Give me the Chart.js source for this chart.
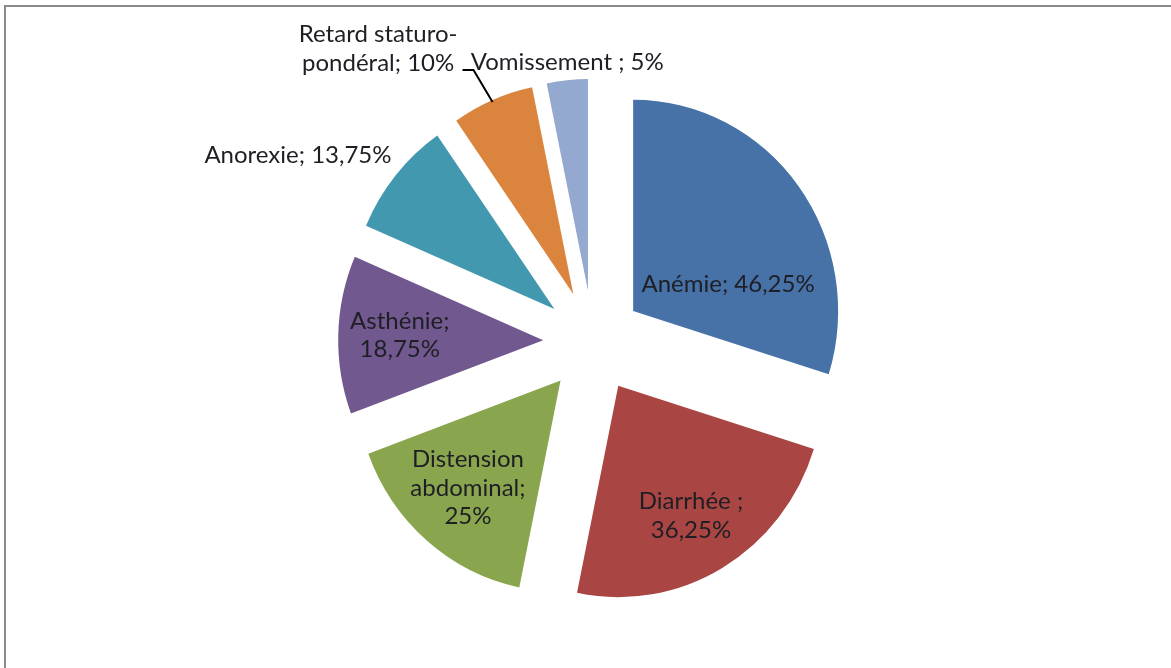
<!DOCTYPE html>
<html lang="fr">
<head>
<meta charset="utf-8">
<title>Signes cliniques</title>
<script src="https://cdn.jsdelivr.net/npm/chart.js@4/dist/chart.umd.min.js"></script>
<style>
  html, body { margin: 0; padding: 0; background: #ffffff; }
  #wrap { position: relative; width: 1171px; height: 668px; overflow: hidden; }
  #frame {
    position: absolute; left: 4px; top: 5px; width: 1300px; height: 800px;
    border-top: 2px solid #8a8a8a; border-left: 2px solid #8a8a8a;
    box-sizing: border-box;
  }
  canvas { position: absolute; left: 0; top: 0; }
</style>
</head>
<body>
<div id="wrap">
  <div id="frame"></div>
  <canvas id="chart" width="1171" height="668"></canvas>
</div>
<script>
// Clinical signs, in drawing order (clockwise from 12 o'clock)
const categories = [
  'Anémie', 'Diarrhée', 'Distension abdominal', 'Asthénie',
  'Anorexie', 'Retard staturo-pondéral', 'Vomissement'
];
const values = [46.25, 36.25, 25, 18.75, 13.75, 10, 5];
const sliceColors = [
  '#4672A7', '#A94643', '#89A54E', '#71588F', '#4198AF', '#DB843D', '#93A9CF'
];
// Label text per slice; {v} is replaced by the formatted value
const labelTemplates = [
  'Anémie; {v}',
  'Diarrhée ;\n{v}',
  'Distension\nabdominal;\n{v}',
  'Asthénie;\n{v}',
  'Anorexie; {v}',
  'Retard staturo-\npondéral; {v}',
  'Vomissement ; {v}'
];

const fmt = v => String(v).replace('.', ',') + '%';
const labelLines = labelTemplates.map((t, i) => t.replace('{v}', fmt(values[i])).split('\n'));

// Where each label sits: inside along the slice (shift in degrees, fraction of radius
// from the slice tip) or outside next to the arc's midpoint.
const labelPlacement = [
  { inside: true, shift: 21, r: 0.48 },
  { inside: true, shift: 0.5, r: 0.71 },
  { inside: true, shift: 1, r: 0.68 },
  { inside: true, shift: 0.5, r: 0.70 },
  { inside: false, align: 'right', dx: -4, dy: -20 },
  { inside: false, leader: true },
  { inside: false, align: 'center', dx: 0, dy: -18 }
];

const EXPLODE = 0.243;           // slice pull-out, as a fraction of the radius
const STRETCH_Y = 1.031;         // the pie is drawn slightly taller than wide
const FONT = '24px Lato, "Open Sans", sans-serif';
const LINE_H = 28.5;
const TEXT_COLOR = '#1e1e24';

// Point on the (vertically stretched) pie, from pie-local offsets
const toScreen = (arc, dx, dy) => [arc.x + dx, arc.y + dy * STRETCH_Y];

// Draws every slice pulled out along its own bisector
const explodedSlices = {
  id: 'explodedSlices',
  beforeDatasetDraw(chart, args) {
    const ctx = chart.ctx;
    args.meta.data.forEach(arc => {
      const mid = (arc.startAngle + arc.endAngle) / 2;
      const d = arc.outerRadius * EXPLODE;
      ctx.save();
      ctx.translate(arc.x, arc.y);
      ctx.scale(1, STRETCH_Y);
      ctx.translate(-arc.x + Math.cos(mid) * d, -arc.y + Math.sin(mid) * d);
      arc.draw(ctx);
      ctx.restore();
    });
    return false;
  }
};

// Data labels, inside or outside the slices, with one leader line
const sliceLabels = {
  id: 'sliceLabels',
  afterDatasetsDraw(chart) {
    const ctx = chart.ctx;
    const meta = chart.getDatasetMeta(0);
    ctx.save();
    ctx.font = FONT;
    ctx.fillStyle = TEXT_COLOR;
    ctx.textBaseline = 'middle';
    meta.data.forEach((arc, i) => {
      const R = arc.outerRadius;
      const mid = (arc.startAngle + arc.endAngle) / 2;
      const tx = Math.cos(mid) * R * EXPLODE;
      const ty = Math.sin(mid) * R * EXPLODE;
      const lines = labelLines[i];
      const p = labelPlacement[i];
      const block = (cx, cy, align) => {
        ctx.textAlign = align;
        const top = cy - (lines.length - 1) * LINE_H / 2;
        lines.forEach((ln, k) => ctx.fillText(ln, cx, top + k * LINE_H));
      };
      if (p.inside) {
        const a = mid + p.shift * Math.PI / 180;
        const [lx, ly] = toScreen(arc, tx + Math.cos(a) * R * p.r, ty + Math.sin(a) * R * p.r);
        block(lx, ly, 'center');
        return;
      }
      const [ox, oy] = toScreen(arc, tx + Math.cos(mid) * R, ty + Math.sin(mid) * R);
      if (p.leader) {
        const bx = ox - 19, by = oy - 30;
        const ex = bx - 11;
        ctx.save();
        ctx.strokeStyle = '#000000';
        ctx.lineWidth = 2;
        ctx.beginPath();
        ctx.moveTo(ox, oy + 2);
        ctx.lineTo(bx, by);
        ctx.lineTo(ex, by);
        ctx.stroke();
        ctx.restore();
        const w = Math.max(...lines.map(l => ctx.measureText(l).width));
        const cx = ex - 5 - w / 2;
        block(cx, by - 7 - (lines.length - 1) * LINE_H / 2, 'center');
      } else {
        block(ox + p.dx, oy + p.dy, p.align);
      }
    });
    ctx.restore();
  }
};

new Chart(document.getElementById('chart'), {
  type: 'pie',
  data: {
    labels: categories,
    datasets: [{
      data: values,
      backgroundColor: sliceColors,
      borderWidth: 0,
      offset: 0,
      radius: 205
    }]
  },
  options: {
    responsive: false,
    animation: false,
    layout: { padding: { left: 15, top: 15, right: 0, bottom: 0 } },
    plugins: {
      legend: { display: false },
      tooltip: { enabled: false },
      title: { display: false }
    }
  },
  plugins: [explodedSlices, sliceLabels]
});
</script>
</body>
</html>
